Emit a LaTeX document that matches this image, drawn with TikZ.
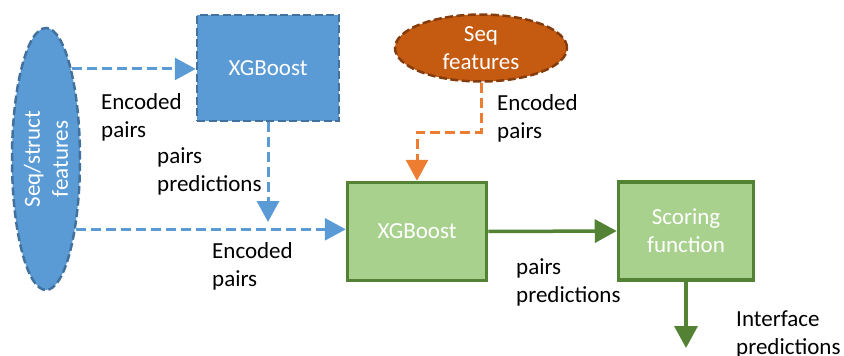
\documentclass[tikz,border=0pt]{standalone}
\usepackage{fontspec}
\setmainfont{Carlito}
\usetikzlibrary{shapes.geometric,arrows.meta}
\definecolor{bluefill}{HTML}{5B9BD5}
\definecolor{blueedge}{HTML}{41719C}
\definecolor{greenfill}{HTML}{A9D18E}
\definecolor{greenedge}{HTML}{548235}
\definecolor{orangefill}{HTML}{C55A11}
\definecolor{orangeedge}{HTML}{843C0C}
\definecolor{orangeline}{HTML}{ED7D31}
\tikzset{
  txt/.style={font=\fontsize{23}{28}\selectfont},
  lbl/.style={txt, anchor=west, align=left, inner sep=0pt, text=black},
  inner/.style={txt, text=white, align=center, inner sep=0pt},
  bluebox/.style={draw=blueedge, fill=bluefill, line width=2.5pt, dash pattern=on 8pt off 3.5pt,
    minimum width=142pt, minimum height=106pt, inner sep=0pt},
  greenbox/.style={draw=greenedge, fill=greenfill, line width=3.5pt,
    minimum width=139pt, minimum height=98pt, inner sep=0pt},
  blueblob/.style={ellipse, draw=blueedge, fill=bluefill, line width=2.5pt, dash pattern=on 8pt off 3.5pt, inner sep=0pt},
  orangeblob/.style={ellipse, draw=orangeedge, fill=orangefill, line width=2.5pt, dash pattern=on 8pt off 3.5pt, inner sep=0pt},
  bluearrow/.style={draw=bluefill, line width=3pt, dash pattern=on 10pt off 5pt,
    -{Triangle[length=21pt,width=22pt,fill=bluefill]}},
  orangearrow/.style={draw=orangeline, line width=3pt, dash pattern=on 10pt off 5pt,
    -{Triangle[length=21pt,width=22pt,fill=orangeline]}},
  greenarrow/.style={draw=greenedge, line width=3.5pt,
    -{Triangle[length=22pt,width=23pt,fill=greenedge]}},
}
\begin{document}
\begin{tikzpicture}[x=1pt, y=-1pt]
\useasboundingbox (0,0) rectangle (844,356);

% shapes
\node[blueblob, minimum width=68pt, minimum height=262pt] (sf) at (46,159) {};
\node[inner, rotate=90] at (sf.center) {Seq/struct\\features};
\node[bluebox, inner] (xgtop) at (268,68) {XGBoost};
\node[orangeblob, minimum width=172pt, minimum height=67pt, inner, text=white] (seq) at (481,48) {Seq\\features};
\node[greenbox, inner] (xgmain) at (417,231.5) {XGBoost};
\node[greenbox, inner, minimum width=135pt] (score) at (686,231) {Scoring\\function};

% free ends and bends
\coordinate (predend) at (268,222);
\coordinate (obend) at (417,132);
\coordinate (outend) at (686,348);

% connectors
\draw[bluearrow] (sf.74.6) -- (sf.74.6 -| xgtop.west);
\draw[bluearrow] (xgtop.south) -- (predend);
\draw[bluearrow] (sf.-67.7) -- (sf.-67.7 -| xgmain.west);
\draw[orangearrow] (seq.south) |- (obend) -- (obend |- xgmain.north);
\draw[greenarrow] (xgmain.east) -- (score.west);
\draw[greenarrow] (score.south) -- (outend);

% labels
\node[lbl] (l1) at (101,117) {Encoded\\pairs};
\node[lbl] (l2) at (157,171) {pairs\\predictions};
\node[lbl] (l3) at (212,266) {Encoded\\pairs};
\node[lbl] (l4) at (497,118) {Encoded\\pairs};
\node[lbl] (l5) at (516,282) {pairs\\predictions};
\node[lbl] (l6) at (736,334) {Interface\\predictions};
\end{tikzpicture}
\end{document}
